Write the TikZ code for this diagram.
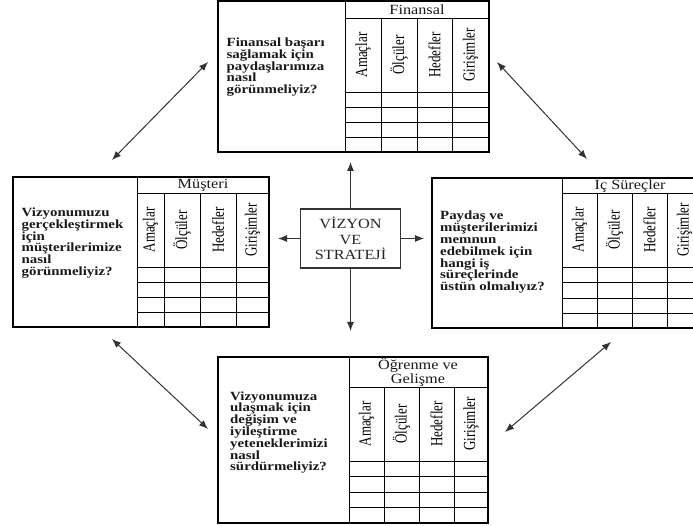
\documentclass[tikz,border=0pt]{standalone}
\usepackage{fontspec}
\setmainfont{Liberation Serif}
\usetikzlibrary{arrows.meta}
% left-aligned lines, first baseline is the box baseline
\newcommand\qlines[1]{\scalebox{1.19}[1]{\vtop{\baselineskip=11.8pt\lineskiplimit=-20pt\lineskip=0pt\halign{##\hfil\cr#1\crcr}}}}
% centred lines
\newcommand\clines[2]{\scalebox{1.16}[1]{\vbox{\baselineskip=#1\lineskiplimit=-20pt\lineskip=0pt\halign{\hfil##\hfil\cr#2\crcr}}}}
\tikzset{
  pframe/.style={draw=black, line width=1.2pt, inner sep=0pt, outer sep=0pt, anchor=north west},
  tline/.style={draw=black, line width=0.9pt},
  qtext/.style={anchor=base west, inner sep=0pt, text=black!90, font={\bfseries\fontsize{12.5}{11.8}\selectfont}},
  htext/.style={inner sep=0pt, text=black!90, font={\fontsize{14}{14}\selectfont}},
  clabel/.style={rotate=90, inner sep=0pt, text=black, font={\fontsize{13}{13}\selectfont}},
  link/.style={draw=black!80, line width=1pt, {Latex[length=9pt,width=7pt]}-{Latex[length=9pt,width=7pt]}},
  spoke/.style={draw=black!80, line width=1pt, -{Latex[length=9pt,width=7pt]}},
  vbox/.style={draw=black!80, line width=1.2pt, minimum width=100pt, minimum height=59pt, inner sep=0pt, text=black!85, font={\fontsize{14}{15.5}\selectfont}}
}
% #1 name, #2 x0, #3 y0, #4 x1, #5 y1, #6 xdiv, #7 yhead, #8 column lines, #9 row lines
\newcommand\perspblock[9]{%
  \node[pframe, minimum width={(#4-#2)*1pt}, minimum height={(#5-#3)*1pt}] (#1) at (#2,#3) {};
  \draw[tline] (#6,#3) -- (#6,#5);
  \draw[tline] (#6,#7) -- (#4,#7);
  \foreach \cc in {#8} {\draw[tline] (\cc,#7) -- (\cc,#5);}
  \foreach \rr in {#9} {\draw[tline] (#6,\rr) -- (#4,\rr);}
}
% #1 name prefix, #2..#5 x centres, #6 y centre
\newcommand\collabels[6]{%
  \node[clabel] (#1a) at (#2,#6) {\scalebox{1}[1.3]{Amaçlar}};
  \node[clabel] (#1b) at (#3,#6) {\scalebox{1}[1.3]{Ölçüler}};
  \node[clabel] (#1c) at (#4,#6) {\scalebox{1}[1.3]{Hedefler}};
  \node[clabel] (#1d) at (#5,#6) {\scalebox{1}[1.3]{Girişimler}};
}
\begin{document}
\begin{tikzpicture}[x=1pt,y=-1pt]
  \clip (0,0) rectangle (693,526);
  \fill[white] (0,0) rectangle (693,526);

  % Finansal (top)
  \perspblock{fin}{218}{1}{489}{152}{345}{18}{381,417,452}{92,107,122,137}
  \node[htext] (finh) at (417,9.5) {\clines{14pt}{Finansal}};
  \collabels{finl}{363}{399}{434.5}{470.5}{55}
  \node[qtext] (finq) at (226.5,46.5) {\qlines{Finansal başarı\cr sağlamak için\cr paydaşlarımıza\cr nasıl\cr görünmeliyiz?}};

  % Müşteri (left)
  \perspblock{mus}{13}{177}{269}{327}{137}{193}{164,200,236}{267,282,297,312}
  \node[htext] (mush) at (203,185) {\clines{14pt}{Müşteri}};
  \collabels{musl}{150.5}{182}{218}{252.5}{230}
  \node[qtext] (musq) at (21.5,216.5) {\qlines{Vizyonumuzu\cr gerçekleştirmek\cr için\cr müşterilerimize\cr nasıl\cr görünmeliyiz?}};

  % İç Süreçler (right)
  \perspblock{ics}{432}{178}{702}{328}{562}{193}{597,632,667}{267,282,298,313}
  \node[htext] (icsh) at (630,185.5) {\clines{14pt}{İç Süreçler}};
  \collabels{icsl}{579.5}{614.5}{649.5}{684.5}{230}
  \node[qtext] (icsq) at (440,220) {\qlines{Paydaş ve\cr müşterilerimizi\cr memnun\cr edebilmek için\cr hangi iş\cr süreçlerinde\cr üstün olmalıyız?}};

  % Öğrenme ve Gelişme (bottom)
  \perspblock{ogr}{218}{357}{488}{523}{349}{387}{384,419,454}{461,476,492,507}
  \node[htext] (ogrh) at (418,372) {\clines{14pt}{Öğrenme ve\cr Gelişme}};
  \collabels{ogrl}{366.5}{401.5}{436.5}{471}{424}
  \node[qtext] (ogrq) at (230,400) {\qlines{Vizyonumuza\cr ulaşmak için\cr değişim ve\cr iyileştirme\cr yeteneklerimizi\cr nasıl\cr sürdürmeliyiz?}};

  % centre
  \node[vbox] (vs) at (350.5,238.5) {\clines{15.5pt}{VİZYON\cr VE\cr STRATEJİ}};
  \coordinate (upTip) at (350.5,162);
  \coordinate (downTip) at (350.5,331);
  \coordinate (leftTip) at (278,238.5);
  \coordinate (rightTip) at (424,238.5);
  \draw[spoke] (vs.north) -- (upTip);
  \draw[spoke] (vs.south) -- (downTip);
  \draw[spoke] (vs.west) -- (leftTip);
  \draw[spoke] (vs.east) -- (rightTip);

  % diagonal links
  \coordinate (tlA) at (112,160);
  \coordinate (tlB) at (208,62);
  \coordinate (trA) at (497,62);
  \coordinate (trB) at (587,159);
  \coordinate (blA) at (112,339);
  \coordinate (blB) at (208,429);
  \coordinate (brA) at (611,342);
  \coordinate (brB) at (505,432);
  \draw[link] (tlA) -- (tlB);
  \draw[link] (trA) -- (trB);
  \draw[link] (blA) -- (blB);
  \draw[link] (brA) -- (brB);
\end{tikzpicture}
\end{document}
